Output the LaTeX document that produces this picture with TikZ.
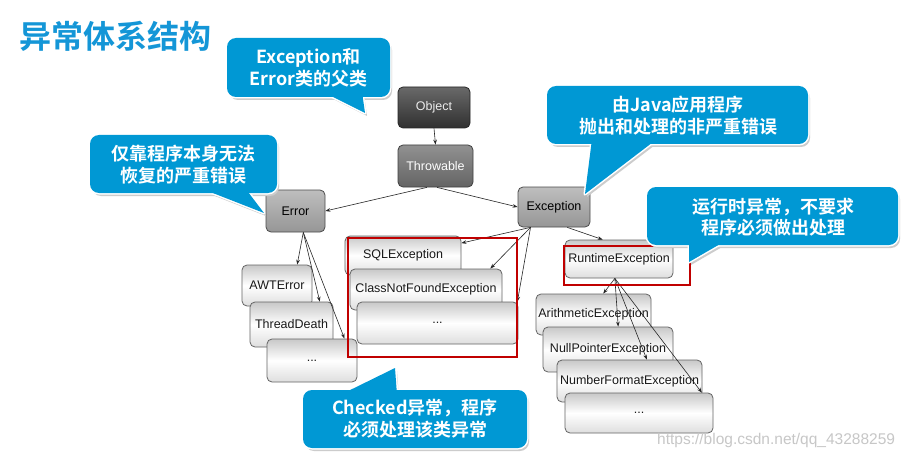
\documentclass[tikz,border=0pt]{standalone}
\usepackage{fontspec}
\setmainfont{Liberation Sans}
\newfontfamily\cjk{Noto Sans CJK SC}[BoldFont={Noto Sans CJK SC Bold}]
\usetikzlibrary{arrows.meta}
\definecolor{bblue}{RGB}{0,152,212}
\definecolor{tblue}{RGB}{20,150,215}
\definecolor{redc}{RGB}{192,0,0}
\definecolor{objtop}{RGB}{105,105,105}
\definecolor{objbot}{RGB}{48,48,48}
\definecolor{thrtop}{RGB}{145,145,145}
\definecolor{thrbot}{RGB}{100,100,100}
\definecolor{midtop}{RGB}{190,190,190}
\definecolor{midbot}{RGB}{150,150,150}
\definecolor{ctop}{RGB}{200,200,200}
\definecolor{cbot}{RGB}{222,222,222}
\definecolor{cborder}{RGB}{100,100,100}
\tikzset{
  basebox/.style={rounded corners=5pt, inner sep=0pt, line width=0.8pt,
    font=\fontsize{12.5}{14}\selectfont},
  objbox/.style={basebox, draw=black!85, top color=objtop, bottom color=objbot, text=black!8},
  thrbox/.style={basebox, draw=black!75, top color=thrtop, bottom color=thrbot, text=white},
  midbox/.style={basebox, draw=black!70, top color=midtop, bottom color=midbot, text=black},
  childbox/.style={basebox, draw=cborder, top color=ctop, bottom color=cbot, middle color=white, text=black!90},
  conn/.style={-{Stealth[length=5pt,width=3.6pt]}, line width=0.6pt, black!85},
  redbox/.style={draw=redc, line width=2.6pt},
  btext/.style={text=white, align=center, inner sep=0pt,
    font=\cjk\bfseries\fontsize{18}{21.5}\selectfont},
}
\newcommand\bubble[3]{%
  \begin{scope}[shift={(2,3)}]
    \fill[black!20,rounded corners=9pt] #1 rectangle #2;
    \fill[black!20] #3;
  \end{scope}
  \draw[white,line width=3pt,rounded corners=9pt] #1 rectangle #2;
  \draw[white,line width=3pt,line join=round] #3;
  \fill[bblue,rounded corners=9pt] #1 rectangle #2;
  \fill[bblue] #3;
}
\begin{document}
\begin{tikzpicture}[x=1pt,y=-1pt]
\fill[white] (0,0) rectangle (909,457);
\useasboundingbox (0,0) rectangle (909,457);

% title
\node[anchor=west, text=tblue, inner sep=0pt,
  font=\cjk\bfseries\fontsize{32}{32}\selectfont] (title) at (19,36) {异常体系结构};

% main hierarchy
\node[objbox, minimum width=72pt, minimum height=41pt] (obj) at (434,107.5) {Object};
\node[thrbox, minimum width=75pt, minimum height=42pt] (thr) at (435.5,166) {Throwable};
\node[midbox, minimum width=59pt, minimum height=42pt] (err) at (295.5,211) {Error};
\node[midbox, minimum width=72pt, minimum height=40pt] (exc) at (554,207) {Exception};

% Error children
\node[childbox, minimum width=70pt, minimum height=41pt] (awt) at (277,285.5) {AWTError};
\node[childbox, minimum width=83pt, minimum height=45pt] (td) at (291.5,324.5) {ThreadDeath};
\node[childbox, minimum width=90pt, minimum height=43pt] (edots) at (312,360.5) {...};

% checked exceptions
\node[childbox, minimum width=116pt, minimum height=39pt] (sql) at (403,255.5) {SQLException};
\node[childbox, minimum width=152pt, minimum height=41pt] (cnf) at (426,289.5) {ClassNotFoundException};
\node[childbox, minimum width=161pt, minimum height=42pt] (cdots) at (437.5,323) {...};

% runtime exceptions
\node[childbox, minimum width=108pt, minimum height=38pt] (rt) at (619,259) {RuntimeException};
\node[childbox, minimum width=115pt, minimum height=41pt] (ari) at (593.5,314.5) {ArithmeticException};
\node[childbox, minimum width=130pt, minimum height=45pt] (npe) at (608,349.5) {NullPointerException};
\node[childbox, minimum width=145pt, minimum height=42pt] (nfe) at (629.5,381) {NumberFormatException};
\node[childbox, minimum width=148pt, minimum height=40pt] (rdots) at (639,413) {...};

% connectors
\draw[conn] (obj.south) -- (thr.north);
\draw[conn] (thr.248) -- (err.east);
\draw[conn] (thr.274) -- (exc.west);
\draw[conn] (err.290) -- (awt.46);
\draw[conn] (err.290) -- (td.39);
\draw[conn] (err.290) -- (edots.34);
\draw[conn] (exc.221) -- (sql.12);
\draw[conn] (exc.221) -- (cnf.18);
\draw[conn] (exc.221) -- (cdots.15);
\draw[conn] (exc.303) -- (rt.130);
\draw[conn] (rt.258) -- (ari.65);
\draw[conn] (rt.258) -- (npe.66);
\draw[conn] (rt.258) -- (nfe.51);
\draw[conn] (rt.258) -- (rdots.18);

% red highlight frames
\draw[redbox] (348,238) rectangle (517,357);
\draw[redbox] (564,246) rectangle (690,285);

% callouts
\bubble{(227,38)}{(390,97)}{(323,92) -- (362,92) -- (365,113) -- cycle}
\node[btext] (c1) at (308.5,68) {Exception和\\Error类的父类};

\bubble{(90,135)}{(277,193)}{(200,188) -- (245,188) -- (264,213) -- cycle}
\node[btext] (c2) at (183.5,164.5) {仅靠程序本身无法\\恢复的严重错误};

\bubble{(547,86)}{(808,144)}{(592,139) -- (657,139) -- (585,194) -- cycle}
\node[btext] (c3) at (678,115.5) {由Java应用程序\\抛出和处理的非严重错误};

\bubble{(647,187)}{(898,245)}{(689,240) -- (727,240) -- (689,262) -- cycle}
\node[btext] (c4) at (773,217) {运行时异常，不要求\\程序必须做出处理};

\bubble{(303,390)}{(527,448)}{(340,395) -- (397,395) -- (395,368) -- cycle}
\node[btext] (c5) at (415,418.5) {Checked异常，程序\\必须处理该类异常};

% watermark
\node[anchor=west, inner sep=0pt, text=black!22, font=\fontsize{15.5}{16}\selectfont] (wm) at (657,440) {https://blog.csdn.net/qq\_43288259};
\end{tikzpicture}
\end{document}
